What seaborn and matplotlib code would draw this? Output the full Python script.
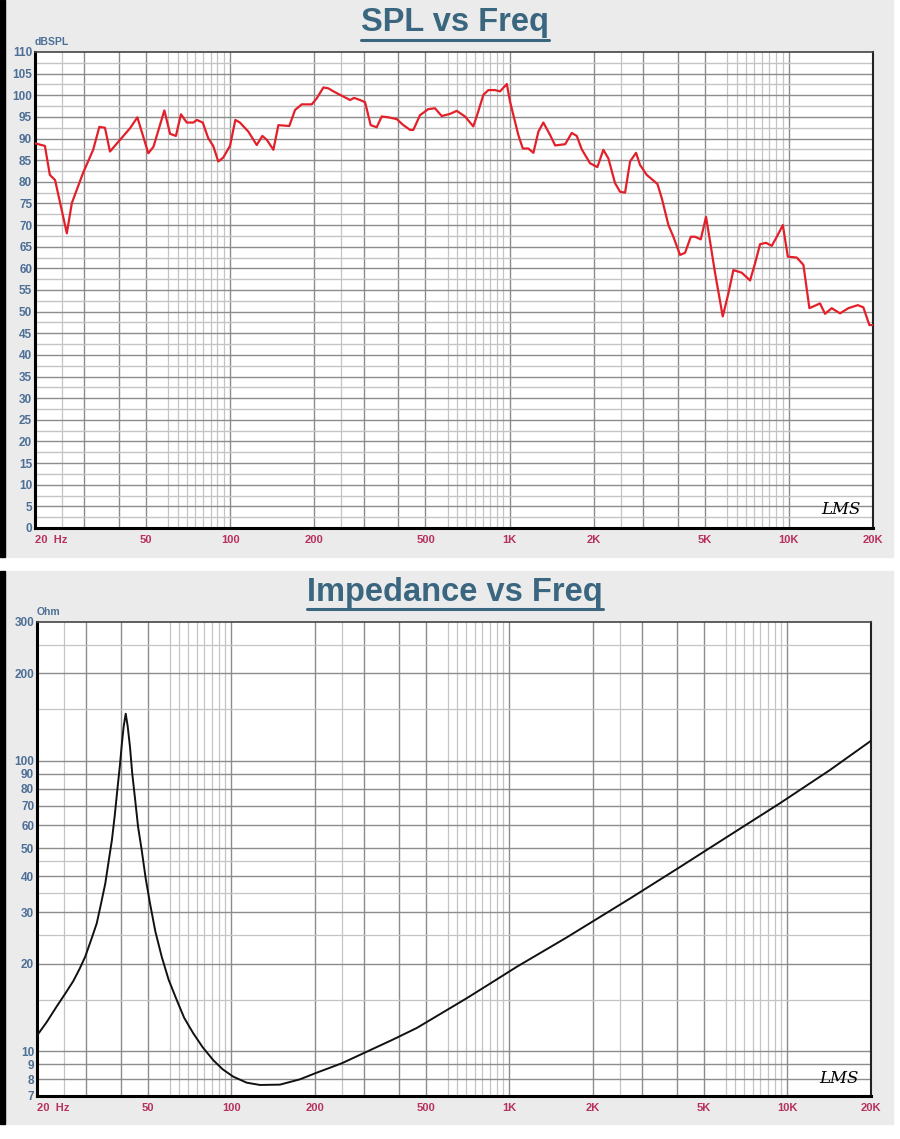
import numpy as np
import pandas as pd
import seaborn as sns
import matplotlib.pyplot as plt
from matplotlib.patches import Rectangle
from matplotlib.lines import Line2D

# SPL response (Hz, dB)
spl_freq = [20, 21.7, 22.6, 23.6, 26.0, 27.1, 29.7, 32.3, 34.0, 35.6, 37.1, 40.3, 43.8, 46.5,
            50.9, 53.1, 58.1, 60.9, 63.9, 66.6, 69.9, 73.8, 75.9, 79.7, 83.4, 86.9, 90.6, 94.4,
            99.8, 104.3, 108.3, 116.1, 124.4, 130.3, 135.2, 142.7, 148.7, 162.7, 170.6, 180.3,
            195.8, 204.0, 215.5, 224.5, 234.1, 250.8, 268.5, 277.5, 291.6, 303.8, 318.3, 334.4,
            348.5, 368.1, 394.4, 416.6, 440.3, 452.3, 478.0, 511.6, 540.7, 571.5, 612.1, 646.9,
            692.4, 741.4, 762.5, 805.9, 839.7, 887.5, 924.6, 977.5, 1004, 1075, 1115, 1167, 1217,
            1268, 1321, 1397, 1456, 1582, 1669, 1740, 1813, 1941, 2062, 2166, 2258, 2385, 2486,
            2591, 2700, 2836, 2931, 3098, 3383, 3507, 3704, 3858, 4077, 4249, 4455, 4614, 4835,
            5050, 5221, 5441, 5796, 6071, 6327, 6778, 7261, 7567, 7886, 8281, 8683, 9049, 9511,
            9911, 10670, 11270, 11840, 12920, 13470, 14230, 15240, 16320, 17640, 18470, 19410,
            20000]
spl_db = [88.9, 88.3, 81.6, 80.4, 68.1, 75.1, 82.0, 87.4, 92.7, 92.5, 87.0, 89.7, 92.4, 94.9,
          86.6, 88.1, 96.5, 91.1, 90.6, 95.6, 93.7, 93.7, 94.3, 93.7, 90.1, 88.3, 84.7, 85.6,
          88.3, 94.3, 93.7, 91.6, 88.5, 90.6, 89.7, 87.4, 93.1, 92.9, 96.6, 97.9,
          97.9, 99.3, 101.8, 101.6, 100.9, 99.9, 98.9, 99.4, 98.9, 98.4, 93.1, 92.6,
          95.1, 94.9, 94.5, 93.1, 92.0, 92.0, 95.4, 96.8, 97.0, 95.2, 95.7, 96.4,
          95.1, 92.8, 95.1, 100.1, 101.2, 101.2, 100.9, 102.6, 98.5, 90.8, 87.7, 87.7, 86.7,
          91.6, 93.7, 90.8, 88.4, 88.7, 91.3, 90.6, 87.5, 84.3, 83.4, 87.4, 85.4, 79.7, 77.7,
          77.5, 84.7, 86.7, 83.9, 81.6, 79.5, 76.2, 70.0, 67.3, 63.1, 63.6, 67.3, 67.3, 66.7,
          71.9, 66.2, 58.9, 48.9, 54.2, 59.6, 59.0, 57.2, 61.2, 65.6, 65.9, 65.2, 67.3, 70.0,
          62.7, 62.5, 60.8, 50.8, 51.9, 49.5, 50.8, 49.6, 50.8, 51.5, 51.0, 46.9,
          46.9]

# impedance (Hz, Ohm)
imp_freq = [20, 21.7, 23.5, 25.2, 27.0, 28.4, 29.8, 31.3, 32.8, 34.0, 35.2, 36.1, 37.2, 38.1,
            38.9, 39.7, 40.4, 41.0, 41.7, 42.4, 43.2, 44.0, 45.1, 46.2, 47.6, 49.2, 51.0, 53.3,
            56.2, 59.5, 63.6, 67.7, 73.0, 78.9, 86.1, 93.1, 101.6, 113.6, 126.8, 149.6, 176.6,
            202.8, 249.5, 306.7, 377.6, 464.4, 571, 703, 864, 1064, 1608, 2717, 4110, 6219,
            9409, 14240, 20000]
imp_ohm = [11.3, 12.6, 14.2, 15.7, 17.4, 19.1, 21.1, 24.1, 27.5, 32.2, 37.7, 44.2, 53.3, 65.0,
           79.2, 95.2, 114.5, 131.0, 145.0, 131.0, 111.5, 90.6, 73.2, 59.1, 49.2, 39.3, 32.2,
           25.8, 21.1, 17.6, 15.0, 13.0, 11.5, 10.3, 9.3, 8.65, 8.16, 7.78, 7.64, 7.66, 7.99,
           8.42, 9.07, 9.94, 10.9, 12.0, 13.5, 15.2, 17.2, 19.5, 24.6, 33.5, 43.0, 55.4,
           71.3, 92.8, 117.0]

x_ticks = [20, 50, 100, 200, 500, 1000, 2000, 5000, 10000, 20000]
x_labels = ["20  Hz", "50", "100", "200", "500", "1K", "2K", "5K", "10K", "20K"]
spl_ticks = list(range(0, 111, 5))
imp_ticks = [7, 8, 9, 10, 20, 30, 40, 50, 60, 70, 80, 90, 100, 200, 300]
imp_minor = [15, 25, 35, 45, 150, 250]

sns.set_style("white")
plt.rcParams['font.family'] = ['Liberation Sans', 'DejaVu Sans']

fig = plt.figure(figsize=(9, 11.39), dpi=100)
fig.patch.set_facecolor("white")
W, H = 900, 1139

# gray panels + dark left strip
for y0, y1 in [(0, 557), (571, 1124)]:
    fig.add_artist(Rectangle((5 / W, 1 - y1 / H), 888 / W, (y1 - y0) / H,
                             transform=fig.transFigure, color="#ebebeb", zorder=-10))
    fig.add_artist(Rectangle((0, 1 - y1 / H), 5 / W, (y1 - y0) / H,
                             transform=fig.transFigure, color="black", zorder=-10))

title_col = "#3a6680"
label_col = "#4d6f96"
xlab_col = "#b8305e"


def freq_grid(ax):
    dark, light = [1, 2, 3, 4, 5], [2.5, 6, 6.5, 7, 7.5, 8, 8.5, 9, 9.5]
    for dec in [10, 100, 1000, 10000]:
        for m in dark:
            f = m * dec
            if 20 < f < 20000:
                ax.axvline(f, color="#8c8c8c", lw=1.0, zorder=1)
        for m in light:
            f = m * dec
            if 20 < f < 20000:
                ax.axvline(f, color="#c4c4c4", lw=0.9, zorder=1)


def style_axes(ax):
    ax.set_xscale("log")
    ax.set_xlim(20, 20000)
    ax.set_xticks(x_ticks)
    ax.set_xticklabels(x_labels)
    ax.minorticks_off()
    ax.tick_params(length=0, labelsize=8, pad=5)
    ax.tick_params(axis="y", labelsize=8.5, pad=2)
    for lab in ax.get_xticklabels():
        lab.set_color(xlab_col)
        lab.set_fontweight("bold")
    ax.get_xticklabels()[0].set_horizontalalignment("left")
    for lab in ax.get_yticklabels():
        lab.set_color(label_col)
        lab.set_fontweight("bold")
    ax.set_xlabel("")
    ax.set_ylabel("")
    for side in ["left", "bottom"]:
        ax.spines[side].set_linewidth(2.2)
        ax.spines[side].set_color("black")
    ax.spines["right"].set_linewidth(1.5)
    ax.spines["right"].set_color("#222222")
    ax.spines["top"].set_linewidth(1.2)
    ax.spines["top"].set_color("#444444")
    ax.set_facecolor("white")


# ---- SPL panel ----
ax1 = fig.add_axes([35 / W, 1 - 528 / H, 838 / W, 476 / H])
spl = pd.DataFrame({"freq": spl_freq, "db": spl_db})
freq_grid(ax1)
for v in np.arange(2.5, 110, 2.5):
    ax1.axhline(v, color="#8c8c8c" if v % 5 == 0 else "#c4c4c4", lw=1.0, zorder=1)
sns.lineplot(data=spl, x="freq", y="db", ax=ax1, color="#e3202a", lw=1.6, zorder=3)
ax1.set_ylim(0, 110)
ax1.set_yticks(spl_ticks)
style_axes(ax1)
ax1.text(0.0, 1.01, "dBSPL", transform=ax1.transAxes, fontsize=7.5, fontweight="bold",
         color=label_col, ha="left", va="bottom")
ax1.text(0.985, 0.02, "LMS", transform=ax1.transAxes, fontsize=12, style="italic",
         family="DejaVu Serif", ha="right", va="bottom", color="black")

# ---- impedance panel ----
ax2 = fig.add_axes([37 / W, 1 - 1096 / H, 834 / W, 474 / H])
imp = pd.DataFrame({"freq": imp_freq, "ohm": imp_ohm})
freq_grid(ax2)
ax2.set_yscale("log")
for v in imp_ticks[:-1]:
    ax2.axhline(v, color="#8c8c8c", lw=1.0, zorder=1)
for v in imp_minor:
    ax2.axhline(v, color="#c4c4c4", lw=0.9, zorder=1)
sns.lineplot(data=imp, x="freq", y="ohm", ax=ax2, color="#111111", lw=1.4, zorder=3)
ax2.set_ylim(7, 300)
ax2.set_yticks(imp_ticks)
ax2.set_yticklabels([str(t) for t in imp_ticks])
style_axes(ax2)
ax2.text(0.0, 1.01, "Ohm", transform=ax2.transAxes, fontsize=7.5, fontweight="bold",
         color=label_col, ha="left", va="bottom")
ax2.text(0.985, 0.02, "LMS", transform=ax2.transAxes, fontsize=12, style="italic",
         family="DejaVu Serif", ha="right", va="bottom", color="black")

# titles with underline matched to the text width
fig.canvas.draw()
for txt, yc, yu in [("SPL vs Freq", 23, 40), ("Impedance vs Freq", 593, 609)]:
    t = fig.text(455 / W, 1 - yc / H, txt, ha="center", va="center", fontsize=23.5,
                 fontweight="bold", color=title_col)
    bb = t.get_window_extent(renderer=fig.canvas.get_renderer())
    fig.add_artist(Line2D([bb.x0 / W, bb.x1 / W], [1 - yu / H, 1 - yu / H],
                          transform=fig.transFigure, color=title_col, lw=2.2))

fig.savefig("out.png", dpi=100)
